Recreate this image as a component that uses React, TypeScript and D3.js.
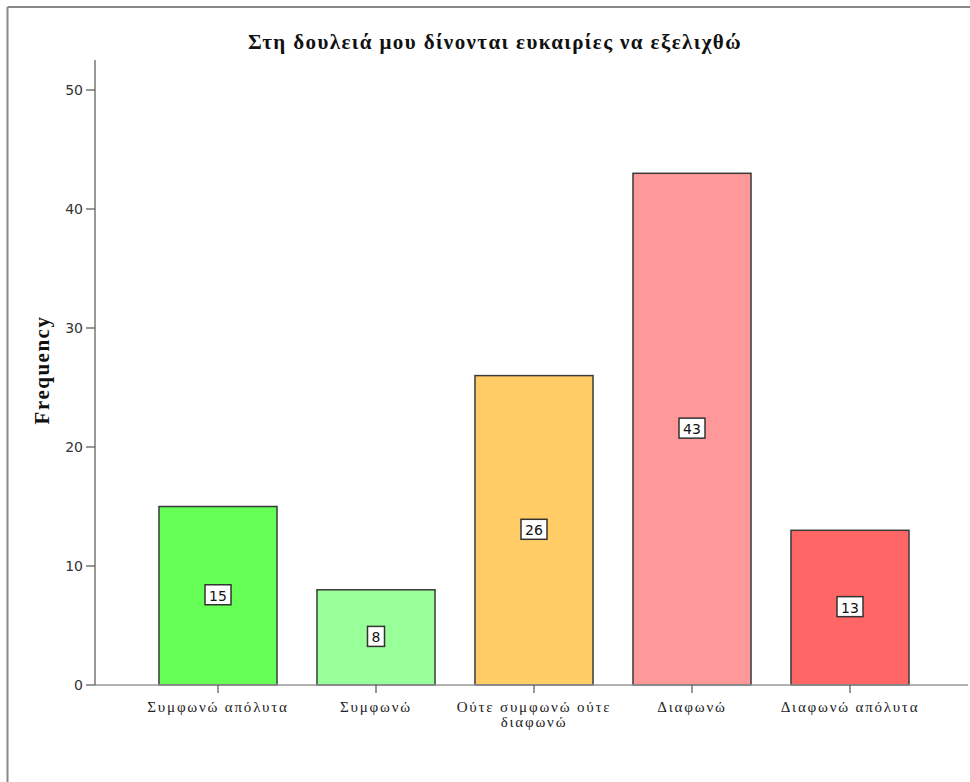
import React from "react";
import * as d3 from "d3";

const categories = ["Συμφωνώ απόλυτα", "Συμφωνώ", "Ούτε συμφωνώ ούτε διαφωνώ", "Διαφωνώ", "Διαφωνώ απόλυτα"];
const labelLines = [["Συμφωνώ απόλυτα"], ["Συμφωνώ"], ["Ούτε συμφωνώ ούτε", "διαφωνώ"], ["Διαφωνώ"], ["Διαφωνώ απόλυτα"]];
const values = [15, 8, 26, 43, 13];
const colors = ["#66ff55", "#99ff99", "#ffcc66", "#ff9999", "#ff6666"];
const yTicks = [0, 10, 20, 30, 40, 50];
const title = "Στη δουλειά μου δίνονται ευκαιρίες να εξελιχθώ";

export default function App() {
  const W = 970, H = 782;
  const x0 = 95, x1 = 973, yTop = 60, yBase = 685;
  const x = d3.scaleBand<string>().domain(categories).range([x0, x1]).paddingInner(0.253).paddingOuter(0.405);
  const y = d3.scaleLinear().domain([0, 50]).range([yBase, 90]);
  const serif = "'Liberation Serif', 'Times New Roman', serif";
  const sans = "'DejaVu Sans', Verdana, sans-serif";
  return (
    <svg width={W} height={H} style={{ position: "absolute", left: 0, top: 0, background: "#fff" }}>
      <rect x={0} y={0} width={W} height={H} fill="#fff" />
      <line x1={7.5} y1={7} x2={W} y2={7} stroke="#888" strokeWidth={2} />
      <line x1={7.5} y1={7} x2={7.5} y2={H} stroke="#888" strokeWidth={2} />
      <text x={495} y={49} textAnchor="middle" fontFamily={serif} fontWeight="bold" fontSize={21} letterSpacing={1.4} fill="#111">{title}</text>
      <text transform={`translate(49,${370}) rotate(-90)`} textAnchor="middle" fontFamily={serif} fontWeight="bold" fontSize={21} letterSpacing={1.5} fill="#111">Frequency</text>
      {values.map((v, i) => {
        const c = categories[i];
        const bx = x(c)!;
        const by = y(v);
        const cx = bx + x.bandwidth() / 2;
        const cy = (by + yBase) / 2 - 1;
        const label = String(v);
        const bw = label.length * 9 + 8;
        return (
          <g key={c}>
            <rect x={bx} y={by} width={x.bandwidth()} height={yBase - by} fill={colors[i]} stroke="#3a3a3a" strokeWidth={1.5} />
            <rect x={cx - bw / 2} y={cy - 10} width={bw} height={20} fill="#fff" stroke="#333" strokeWidth={1.5} />
            <text x={cx} y={cy + 1} textAnchor="middle" dominantBaseline="central" fontFamily={sans} fontSize={14} fill="#111">{label}</text>
          </g>
        );
      })}
      <line x1={x0} y1={yBase} x2={968} y2={yBase} stroke="#999" strokeWidth={1.5} />
      <line x1={x0} y1={yTop} x2={x0} y2={yBase} stroke="#555" strokeWidth={1.2} />
      {yTicks.map((t) => (
        <g key={t}>
          <line x1={x0 - 9} y1={y(t)} x2={x0} y2={y(t)} stroke="#555" strokeWidth={1.2} />
          <text x={x0 - 12} y={y(t)} textAnchor="end" dominantBaseline="central" fontFamily={sans} fontSize={14} fill="#333">{t}</text>
        </g>
      ))}
      {categories.map((c, i) => {
        const cx = x(c)! + x.bandwidth() / 2;
        return (
          <g key={c}>
            <line x1={cx} y1={yBase} x2={cx} y2={yBase + 8} stroke="#555" strokeWidth={1.2} />
            {labelLines[i].map((ln, j) => (
              <text key={j} x={cx} y={yBase + 27 + j * 15} textAnchor="middle" fontFamily={serif} fontSize={15} letterSpacing={1.8} fill="#222">{ln}</text>
            ))}
          </g>
        );
      })}
    </svg>
  );
}
